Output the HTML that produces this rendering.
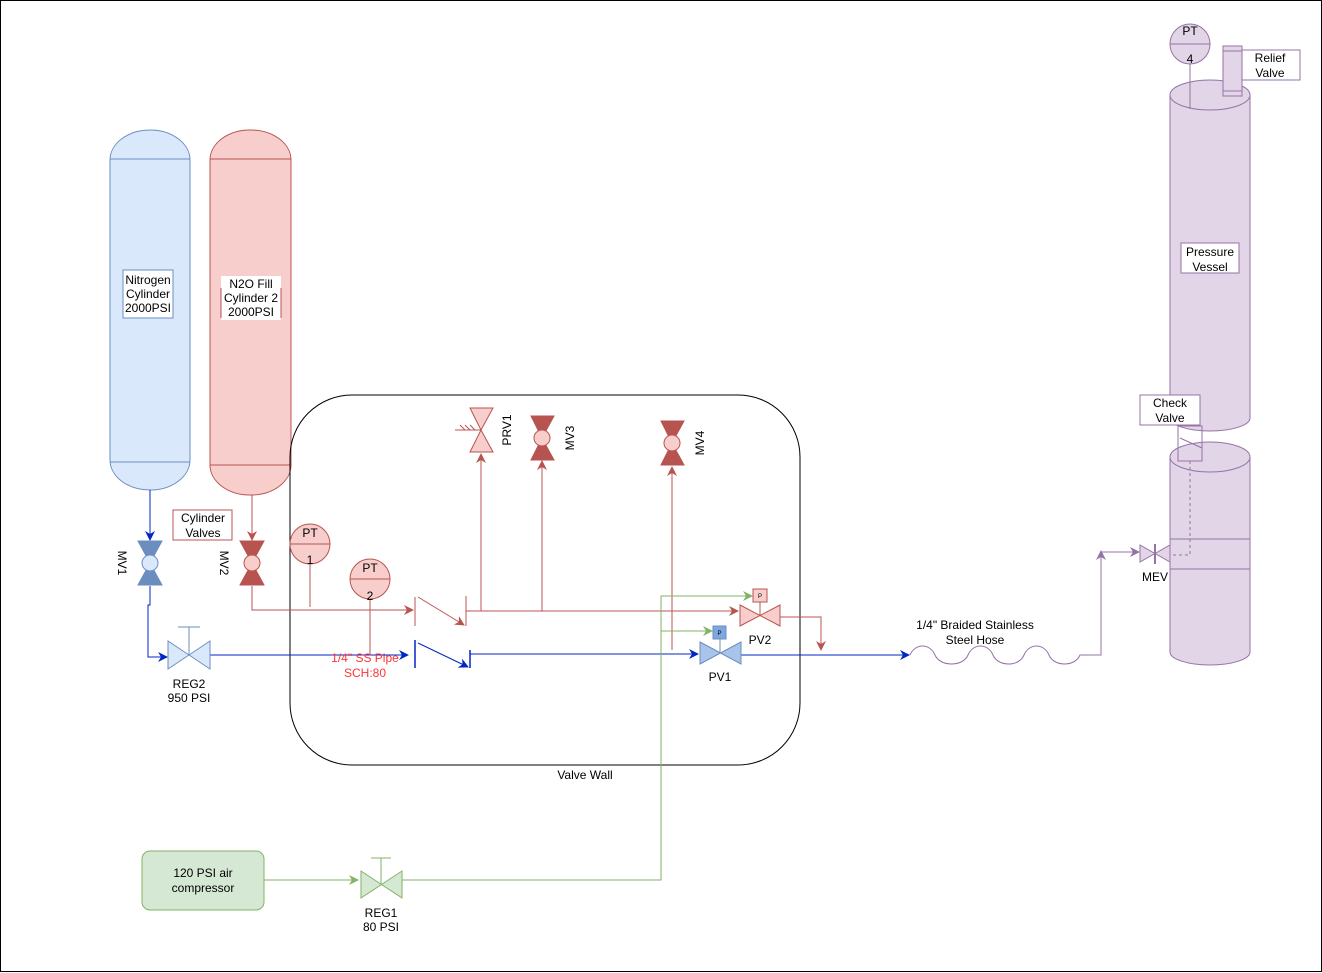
<!DOCTYPE html>
<html><head><meta charset="utf-8"><style>
body{margin:0;background:#fff}
svg{display:block;font-family:"Liberation Sans",Arial,sans-serif}
</style></head><body>
<svg width="1322" height="973" viewBox="0 0 1322 973" xmlns="http://www.w3.org/2000/svg">
<defs>
<marker id="ab" markerWidth="10" markerHeight="10" refX="9" refY="5" orient="auto" markerUnits="userSpaceOnUse"><path d="M0,0 L10,5 L0,10 L3,5z" fill="#0027c4"/></marker>
<marker id="ar" markerWidth="10" markerHeight="10" refX="9" refY="5" orient="auto" markerUnits="userSpaceOnUse"><path d="M0,0 L10,5 L0,10 L3,5z" fill="#b85450"/></marker>
<marker id="ag" markerWidth="10" markerHeight="10" refX="9" refY="5" orient="auto" markerUnits="userSpaceOnUse"><path d="M0,0 L10,5 L0,10 L3,5z" fill="#82b366"/></marker>
<marker id="ap" markerWidth="10" markerHeight="10" refX="9" refY="5" orient="auto" markerUnits="userSpaceOnUse"><path d="M0,0 L10,5 L0,10 L3,5z" fill="#9673a6"/></marker>
</defs>
<rect x="0.5" y="0.5" width="1321" height="971" fill="#fff" stroke="#000"/>

<rect x="110" y="130" width="80" height="360" rx="40" ry="30" fill="#dae8fc" stroke="#6c8ebf"/>
<line x1="110" y1="159" x2="190" y2="159" stroke="#6c8ebf"/><line x1="110" y1="462" x2="190" y2="462" stroke="#6c8ebf"/>
<rect x="210" y="130" width="81" height="365" rx="40" ry="30" fill="#f8cecc" stroke="#b85450"/>
<line x1="210" y1="159" x2="291" y2="159" stroke="#b85450"/><line x1="210" y1="465" x2="291" y2="465" stroke="#b85450"/>
<rect x="123" y="270" width="50" height="48" fill="#fff" stroke="#6c8ebf"/>
<g font-size="12" text-anchor="middle"><text x="148" y="284">Nitrogen</text><text x="148" y="298">Cylinder</text><text x="148" y="312">2000PSI</text></g>
<rect x="221" y="276" width="60" height="44" fill="#fff" stroke="none"/>
<line x1="221" y1="288" x2="221" y2="318" stroke="#b85450"/><line x1="281" y1="288" x2="281" y2="318" stroke="#b85450"/>
<g font-size="12" text-anchor="middle"><text x="251" y="288">N2O Fill</text><text x="251" y="302">Cylinder 2</text><text x="251" y="316">2000PSI</text></g>

<rect x="290" y="395" width="510" height="370" rx="62" fill="none" stroke="#000"/>
<text x="585" y="779" font-size="12" text-anchor="middle">Valve Wall</text>

<rect x="173" y="510" width="59" height="30" fill="#fff" stroke="#b85450"/>
<g font-size="12" text-anchor="middle"><text x="203" y="522">Cylinder</text><text x="203" y="537">Valves</text></g>

<path d="M150,490 V540" stroke="#0027c4" fill="none" marker-end="url(#ab)"/>
<path d="M150,586 V605 H148 V657 H167" stroke="#0027c4" fill="none" marker-end="url(#ab)"/>
<path d="M210,655 H408" stroke="#0027c4" fill="none" marker-end="url(#ab)"/>
<line x1="415" y1="640" x2="415" y2="668" stroke="#0027c4" stroke-width="1.5"/>
<path d="M418,643 L468,667" stroke="#0027c4" fill="none" marker-end="url(#ab)"/>
<line x1="470" y1="650" x2="470" y2="668" stroke="#0027c4" stroke-width="1.5"/>
<path d="M470,654 H698" stroke="#0027c4" fill="none" marker-end="url(#ab)"/>
<path d="M740,655 H909" stroke="#0027c4" fill="none" marker-end="url(#ab)"/>

<path d="M138,541 H162 L150,563 L162,585 H138 L150,563Z" fill="#6c8ebf" stroke="#6c8ebf"/>
<circle cx="150" cy="563" r="8" fill="#dae8fc" stroke="#6c8ebf"/>
<text transform="translate(118,563) rotate(90)" font-size="12" text-anchor="middle">MV1</text>
<path d="M168,641 L210,669 V641 L168,669Z" fill="#dae8fc" stroke="#6c8ebf"/>
<line x1="189" y1="655" x2="189" y2="627" stroke="#6c8ebf"/><line x1="178" y1="627" x2="200" y2="627" stroke="#6c8ebf"/>
<g font-size="12" text-anchor="middle"><text x="189" y="688">REG2</text><text x="189" y="702">950 PSI</text></g>

<path d="M252,495 V540" stroke="#b85450" fill="none" marker-end="url(#ar)"/>
<path d="M252,586 V610 H413" stroke="#b85450" fill="none" marker-end="url(#ar)"/>
<line x1="415" y1="597" x2="415" y2="626" stroke="#b85450"/>
<path d="M418,597 L464,625" stroke="#b85450" fill="none" marker-end="url(#ar)"/>
<line x1="466" y1="596" x2="466" y2="626" stroke="#b85450"/>
<path d="M466,611 H738" stroke="#b85450" fill="none" marker-end="url(#ar)"/>
<path d="M481,611 V454" stroke="#b85450" fill="none" marker-end="url(#ar)"/>
<path d="M542,611 V461" stroke="#b85450" fill="none" marker-end="url(#ar)"/>
<path d="M672,650 V467" stroke="#b85450" fill="none" marker-end="url(#ar)"/>
<path d="M780,617 H821 V650" stroke="#b85450" fill="none" marker-end="url(#ar)"/>
<line x1="310" y1="563" x2="310" y2="607" stroke="#b85450"/>
<line x1="370" y1="598" x2="370" y2="655" stroke="#b85450"/>

<path d="M240,541 H264 L252,563 L264,585 H240 L252,563Z" fill="#b85450" stroke="#b85450"/>
<circle cx="252" cy="563" r="8" fill="#f8cecc" stroke="#b85450"/>
<text transform="translate(220,563) rotate(90)" font-size="12" text-anchor="middle">MV2</text>
<circle cx="310" cy="544" r="20" fill="#f8cecc" stroke="#b85450"/><line x1="290" y1="544" x2="330" y2="544" stroke="#b85450"/>
<text x="310" y="537" font-size="12" text-anchor="middle">PT</text><text x="310" y="564" font-size="12" text-anchor="middle">1</text>
<circle cx="370" cy="579" r="20" fill="#f8cecc" stroke="#b85450"/><line x1="350" y1="579" x2="390" y2="579" stroke="#b85450"/>
<text x="370" y="572" font-size="12" text-anchor="middle">PT</text><text x="370" y="600" font-size="12" text-anchor="middle">2</text>
<g font-size="12" text-anchor="middle" fill="#ff3333"><text x="365" y="662">1/4" SS Pipe</text><text x="365" y="677">SCH:80</text></g>

<path d="M470,408 H493 L481,430 L493,452 H470 L481,430Z" fill="#f8cecc" stroke="#b85450"/>
<path d="M455,430 H481 M460,425 L465,430 M465,425 L470,430 M470,425 L475,430" stroke="#b85450"/>
<text transform="translate(511,430) rotate(-90)" font-size="12" text-anchor="middle">PRV1</text>
<path d="M531,416 H554 L542,438 L554,460 H531 L542,438Z" fill="#b85450" stroke="#b85450"/>
<circle cx="542" cy="438" r="8" fill="#f8cecc" stroke="#b85450"/>
<text transform="translate(574,438) rotate(-90)" font-size="12" text-anchor="middle">MV3</text>
<path d="M661,421 H684 L672,443 L684,465 H661 L672,443Z" fill="#b85450" stroke="#b85450"/>
<circle cx="672" cy="443" r="8" fill="#f8cecc" stroke="#b85450"/>
<text transform="translate(704,443) rotate(-90)" font-size="12" text-anchor="middle">MV4</text>

<rect x="142" y="851" width="122" height="59" rx="8" fill="#d5e8d4" stroke="#82b366"/>
<g font-size="12" text-anchor="middle"><text x="203" y="877">120 PSI air</text><text x="203" y="892">compressor</text></g>
<path d="M264,880 H358" stroke="#82b366" fill="none" marker-end="url(#ag)"/>
<path d="M361,871 L402,898 V871 L361,898Z" fill="#d5e8d4" stroke="#82b366"/>
<line x1="381" y1="884" x2="381" y2="858" stroke="#82b366"/><line x1="371" y1="858" x2="391" y2="858" stroke="#82b366"/>
<g font-size="12" text-anchor="middle"><text x="381" y="917">REG1</text><text x="381" y="931">80 PSI</text></g>
<path d="M402,880 H661 V596 H752" stroke="#82b366" fill="none" marker-end="url(#ag)"/>
<path d="M661,631 H712" stroke="#82b366" fill="none" marker-end="url(#ag)"/>

<path d="M700,642 L741,664 V642 L700,664Z" fill="#a9c4eb" stroke="#6c8ebf"/>
<line x1="720" y1="653" x2="720" y2="639" stroke="#6c8ebf"/>
<rect x="713" y="626" width="13" height="13" fill="#7ea6e0" stroke="#6c8ebf"/><text x="719.5" y="635" font-size="6" text-anchor="middle">P</text>
<text x="720" y="681" font-size="12" text-anchor="middle">PV1</text>
<path d="M740,605 L780,626 V605 L740,626Z" fill="#f8cecc" stroke="#b85450"/>
<line x1="760" y1="615" x2="760" y2="602" stroke="#b85450"/>
<rect x="753" y="589" width="14" height="13" fill="#f8cecc" stroke="#b85450"/><text x="760" y="598" font-size="6" text-anchor="middle">P</text>
<text x="760" y="644" font-size="12" text-anchor="middle">PV2</text>

<g font-size="12" text-anchor="middle"><text x="975" y="629">1/4" Braided Stainless</text><text x="975" y="644">Steel Hose</text></g>
<path d="M910,655 C915,643 930,643 935,655 C940,667 963,667 968,655 C973,643 988,643 993,655 C998,667 1019,667 1024,655 C1029,643 1044,643 1049,655 C1054,667 1075,667 1080,655 H1101 V551" stroke="#9673a6" fill="none" marker-end="url(#ap)"/>
<path d="M1101,552 H1139" stroke="#9673a6" fill="none" marker-end="url(#ap)"/>

<path d="M1170,95 V418 A40,13 0 0 0 1250,418 V95" fill="#e1d5e7" stroke="#9673a6"/>
<ellipse cx="1210" cy="95" rx="40" ry="15" fill="#e1d5e7" stroke="#9673a6"/>
<rect x="1181" y="243" width="58" height="30" fill="#fff" stroke="#9673a6"/>
<g font-size="12" text-anchor="middle"><text x="1210" y="256">Pressure</text><text x="1210" y="271">Vessel</text></g>
<circle cx="1190" cy="44" r="20" fill="#e1d5e7" stroke="#9673a6"/><line x1="1170" y1="44" x2="1210" y2="44" stroke="#9673a6"/>
<text x="1190" y="35" font-size="12" text-anchor="middle">PT</text><text x="1190" y="63" font-size="12" text-anchor="middle">4</text>
<line x1="1190" y1="64" x2="1190" y2="109" stroke="#9673a6"/>
<rect x="1223" y="46" width="19" height="50" fill="#e1d5e7" stroke="#9673a6"/>
<line x1="1223" y1="51" x2="1242" y2="51" stroke="#9673a6"/><line x1="1223" y1="91" x2="1242" y2="91" stroke="#9673a6"/>
<rect x="1242" y="50" width="58" height="30" fill="#fff" stroke="#9673a6"/>
<g font-size="12" text-anchor="middle"><text x="1270" y="62">Relief</text><text x="1270" y="77">Valve</text></g>

<path d="M1170,457 V652 A40,13 0 0 0 1250,652 V457" fill="#e1d5e7" stroke="#9673a6"/>
<ellipse cx="1210" cy="457" rx="40" ry="15" fill="#e1d5e7" stroke="#9673a6"/>
<line x1="1170" y1="539" x2="1250" y2="539" stroke="#9673a6"/><line x1="1170" y1="569" x2="1250" y2="569" stroke="#9673a6"/>
<rect x="1178" y="426" width="24" height="35" fill="none" stroke="#9673a6"/>
<line x1="1180" y1="438" x2="1202" y2="448" stroke="#9673a6"/>
<path d="M1190,461 V555 H1170" stroke="#9673a6" fill="none" stroke-dasharray="3,3"/>
<rect x="1140" y="395" width="60" height="30" fill="#fff" stroke="#9673a6"/>
<g font-size="12" text-anchor="middle"><text x="1170" y="407">Check</text><text x="1170" y="422">Valve</text></g>
<path d="M1140,545 L1170,562 V545 L1140,562Z" fill="#e1d5e7" stroke="#9673a6"/>
<line x1="1155" y1="544" x2="1155" y2="564" stroke="#9673a6" stroke-width="2"/>
<text x="1155" y="581" font-size="12" text-anchor="middle">MEV</text>
</svg>
</body></html>
